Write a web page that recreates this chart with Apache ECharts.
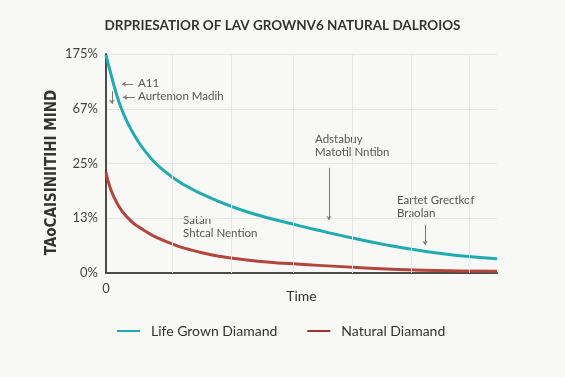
<!DOCTYPE html>
<html>
<head>
<meta charset="utf-8">
<script src="https://cdn.jsdelivr.net/npm/echarts@6/dist/echarts.min.js"></script>
<style>
  html, body { margin: 0; padding: 0; background: #f8f8f6; }
  #chart { width: 565px; height: 377px; }
</style>
</head>
<body>
<div id="chart"></div>
<script>
// y axis is evenly spaced, labels are not linear
var yTickLabels = ['0%', '13%', '25%', '67%', '175%'];

// lab grown curve (time 0..100, value in tick steps)
var labTime  = [0, 1, 2.3, 3.6, 5.4, 7.9, 10.5, 13.8, 19.7, 28.4, 36.8, 49.6, 55.5, 64.2, 72.6, 81.1, 89.8, 100];
var labValue = [3.98, 3.70, 3.36, 3.07, 2.76, 2.44, 2.18, 1.93, 1.62, 1.32, 1.10, 0.86, 0.76, 0.62, 0.50, 0.40, 0.32, 0.26];

// natural curve
var natTime  = [0, 1, 2.8, 5.4, 9.5, 15.6, 24, 32.5, 41.2, 49.6, 64.2, 81.1, 100];
var natValue = [1.84, 1.57, 1.28, 1.02, 0.79, 0.57, 0.38, 0.27, 0.20, 0.16, 0.10, 0.05, 0.03];

// faint vertical grid lines
var gridX = [17, 32, 48, 63, 78, 93];

var seriesNames = ['Life Grown Diamand', 'Natural Diamand'];

var chart = echarts.init(document.getElementById('chart'));

function pairs(xs, ys) {
  var out = [];
  for (var i = 0; i < xs.length; i++) {
    out.push([xs[i], ys[i]]);
  }
  return out;
}

var annText = {
  fontFamily: 'Lato, sans-serif',
  fontSize: 11.5,
  fill: '#555',
  lineHeight: 13
};

var option = {
  backgroundColor: '#f8f8f6',
  animation: false,
  title: {
    text: 'DRPRIESATIOR OF LAV GROWNV6 NATURAL DALROIOS',
    left: 'center',
    top: 14,
    textStyle: {
      fontFamily: 'Lato, sans-serif',
      fontSize: 13.5,
      fontWeight: 'bold',
      color: '#333'
    }
  },
  grid: { left: 106, right: 68, top: 54, bottom: 104 },
  legend: {
    left: 112,
    top: 319,
    icon: 'rect',
    itemWidth: 23,
    itemHeight: 2,
    itemGap: 30,
    textStyle: { fontFamily: 'Lato, sans-serif', fontSize: 14, color: '#333', padding: [0, 0, 0, 6] },
    data: seriesNames
  },
  xAxis: {
    type: 'value',
    min: 0,
    max: 100,
    name: 'Time',
    nameLocation: 'middle',
    nameGap: 16,
    nameMoveOverlap: false,
    nameTextStyle: { fontFamily: 'Lato, sans-serif', fontSize: 14, color: '#333' },
    axisLine: { show: true, lineStyle: { color: '#4a4a4a', width: 2 } },
    axisTick: { show: false },
    splitLine: { show: false },
    axisLabel: {
      margin: 9,
      fontFamily: 'Lato, sans-serif',
      fontSize: 13,
      color: '#444',
      formatter: function (v) { return v === 0 ? '0' : ''; }
    }
  },
  yAxis: {
    type: 'value',
    min: 0,
    max: 4,
    interval: 1,
    name: 'TAoCAISINIITIHI MIND',
    nameLocation: 'middle',
    nameRotate: 90,
    nameGap: 46,
    nameMoveOverlap: false,
    nameTextStyle: {
      fontFamily: '"DejaVu Sans Condensed", "Liberation Sans Narrow", sans-serif',
      fontSize: 15,
      fontWeight: 'bold',
      color: '#333',
      padding: [0, 18, 0, 0]
    },
    axisLine: { show: true, lineStyle: { color: '#4a4a4a', width: 2 } },
    axisTick: { show: false },
    splitLine: { show: true, lineStyle: { color: '#e6e6e6', width: 1 } },
    axisLabel: {
      margin: 8,
      fontFamily: 'Lato, sans-serif',
      fontSize: 13,
      color: '#444',
      formatter: function (v) { return yTickLabels[v] || ''; }
    }
  },
  series: [
    {
      name: seriesNames[0],
      type: 'line',
      smooth: 0.5,
      showSymbol: false,
      z: 3,
      data: pairs(labTime, labValue),
      lineStyle: { color: '#1fabb0', width: 3 },
      itemStyle: { color: '#1fabb0' },
      markLine: {
        silent: true,
        symbol: ['none', 'arrow'],
        symbolSize: 4,
        label: { show: false },
        lineStyle: { color: '#777', width: 1, type: 'solid' },
        data: [
          [{ coord: [57, 1.92] }, { coord: [57, 0.97] }],
          [{ coord: [81.6, 0.88] }, { coord: [81.6, 0.51] }],
          [{ coord: [1.5, 3.32] }, { coord: [1.5, 3.09] }],
          [{ coord: [6.9, 3.45], lineStyle: { color: '#a07070' } }, { coord: [4.1, 3.45] }],
          [{ coord: [7.4, 3.21] }, { coord: [4.35, 3.21] }]
        ]
      }
    },
    {
      name: seriesNames[1],
      type: 'line',
      smooth: 0.5,
      showSymbol: false,
      z: 3,
      data: pairs(natTime, natValue),
      lineStyle: { color: '#b2463d', width: 3 },
      itemStyle: { color: '#a8302c' },
      markLine: {
        silent: true,
        symbol: ['none', 'none'],
        label: { show: false },
        lineStyle: { color: '#e6e6e6', width: 1, type: 'solid' },
        data: gridX.map(function (g) { return { xAxis: g }; })
      }
    }
  ],
  graphic: [
    { type: 'text', left: 138, top: 77, style: Object.assign({ text: 'A11' }, annText) },
    { type: 'text', left: 138, top: 90, style: Object.assign({ text: 'Aurtemon Madih' }, annText) },
    { type: 'text', left: 315, top: 133, style: Object.assign({ text: 'Adstabuy\nMatotil Nntibn' }, annText) },
    { type: 'text', left: 397, top: 194, style: Object.assign({ text: 'Eartet Grectkof\nBraolan' }, annText) },
    { type: 'text', left: 183, top: 214, style: Object.assign({ text: 'Satàn\nShtcal Nention' }, annText) }
  ]
};

chart.setOption(option);
</script>
</body>
</html>
